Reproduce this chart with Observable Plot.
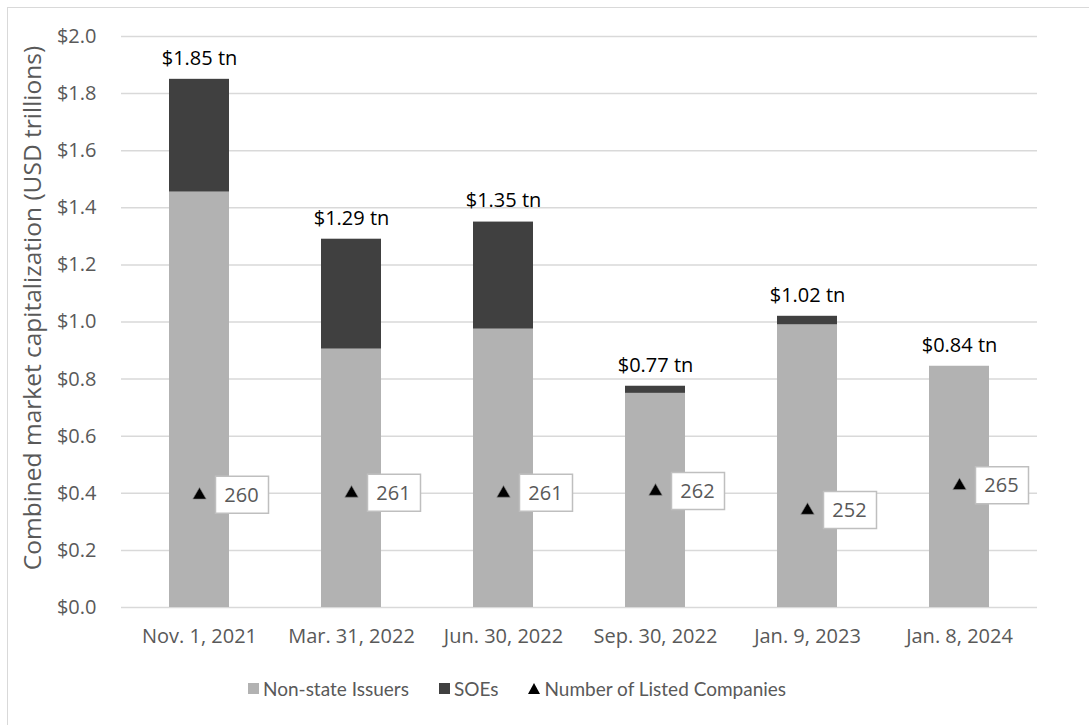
<!DOCTYPE html>
<html>
<head>
<meta charset="utf-8">
<script src="https://cdn.jsdelivr.net/npm/d3@7"></script>
<script src="https://cdn.jsdelivr.net/npm/@observablehq/plot@0.6"></script>
<style>
  html, body { margin: 0; padding: 0; background: #fff; }
  body { font-family: Lato, "Open Sans", sans-serif; }
  #wrap { position: relative; width: 1089px; height: 725px; overflow: hidden; background: #fff; }
  #frame { position: absolute; left: 7px; top: 7px; width: 1100px; height: 740px;
           border-left: 1.5px solid #d9d9d9; border-top: 1.5px solid #d9d9d9; box-sizing: border-box; }
  #chart { position: absolute; left: 0; top: 0; }
  #legend { position: absolute; left: 248px; top: 677px; display: flex; align-items: center;
            font-size: 19px; color: #595959; white-space: nowrap; }
  .item { display: flex; align-items: center; margin-right: 30px; }
  .sw { width: 11px; height: 11px; margin-right: 4px; display: inline-block; }
  .tri { width: 0; height: 0; border-left: 6px solid transparent; border-right: 6px solid transparent;
         border-bottom: 11px solid #000; margin-right: 4px; display: inline-block; }
</style>
</head>
<body>
<div id="wrap">
  <div id="frame"></div>
  <div id="chart"></div>
  <div id="legend"></div>
</div>
<script>
// ---- Data ----
const dates = ["Nov. 1, 2021", "Mar. 31, 2022", "Jun. 30, 2022", "Sep. 30, 2022", "Jan. 9, 2023", "Jan. 8, 2024"];
const nonStateIssuers = [1.455, 0.905, 0.975, 0.75, 0.99, 0.845];
const soes = [0.395, 0.385, 0.375, 0.025, 0.03, 0];
const totalLabels = ["$1.85 tn", "$1.29 tn", "$1.35 tn", "$0.77 tn", "$1.02 tn", "$0.84 tn"];
const listedCompanies = [260, 261, 261, 262, 252, 265];
const yTicks = [0, 0.2, 0.4, 0.6, 0.8, 1.0, 1.2, 1.4, 1.6, 1.8, 2.0];
const countAxisDomain = [201, 501]; // hidden secondary axis for the company counts
const seriesNames = ["Non-state Issuers", "SOEs", "Number of Listed Companies"];
const colors = ["#b2b2b2", "#404040"];
const yTitle = "Combined market capitalization (USD trillions)";

// ---- Build tables ----
const stacked = [];
dates.forEach((d, i) => {
  stacked.push({date: d, series: seriesNames[0], value: nonStateIssuers[i]});
  stacked.push({date: d, series: seriesNames[1], value: soes[i]});
});
const totals = dates.map((d, i) => ({date: d, total: nonStateIssuers[i] + soes[i], label: totalLabels[i]}));
// map the count onto the primary (0..2) scale through the hidden secondary axis
const countToY = d3.scaleLinear().domain(countAxisDomain).range([0, 2]);
const counts = dates.map((d, i) => ({date: d, n: listedCompanies[i], y: countToY(listedCompanies[i])}));

const boxSymbol = {
  draw(context) { context.rect(16, -19, 53, 37); }
};

const textGray = "#595959";
const chartFont = "'Open Sans', Lato, sans-serif";
const plot = Plot.plot({
  width: 1089,
  height: 665,
  marginLeft: 121,
  marginRight: 52,
  marginTop: 36,
  marginBottom: 58,
  style: { fontFamily: chartFont, background: "transparent", overflow: "visible" },
  x: { domain: dates, paddingInner: 0.607, paddingOuter: 0.3035 },
  y: { domain: [0, 2] },
  color: { domain: seriesNames.slice(0, 2), range: colors },
  marks: [
    Plot.gridY(yTicks, { stroke: "#d9d9d9", strokeOpacity: 1, strokeWidth: 1.5 }),
    Plot.axisY(yTicks, { tickSize: 0, tickPadding: 25, tickFormat: d => "$" + d.toFixed(1),
                         fontSize: 20, color: textGray, label: null }),
    Plot.axisX({ tickSize: 0, tickPadding: 21, fontSize: 20, color: textGray, label: null }),
    Plot.text([yTitle], { frameAnchor: "left", textAnchor: "middle", rotate: -90, dx: -88, dy: -14,
                          fontSize: 24.5, fill: textGray }),
    Plot.barY(stacked, Plot.stackY({ x: "date", y: "value", fill: "series", order: seriesNames.slice(0, 2) })),
    Plot.text(totals, { x: "date", y: "total", text: "label", dy: -21, fontSize: 20, fill: "#000" }),
    Plot.dot(counts, { x: "date", y: "y", symbol: "triangle", r: 5, fill: "#000", stroke: "#888", strokeWidth: 0.6 }),
    Plot.dot(counts, { x: "date", y: "y", symbol: boxSymbol, r: 5, fill: "#fff", stroke: "#bfbfbf", strokeWidth: 1.5 }),
    Plot.text(counts, { x: "date", y: "y", text: d => String(d.n), dx: 42, fontSize: 20, fill: textGray })
  ]
});
document.getElementById("chart").appendChild(plot);

// ---- Legend ----
const legend = document.getElementById("legend");
seriesNames.forEach((name, i) => {
  const item = document.createElement("div");
  item.className = "item";
  const sw = document.createElement("span");
  if (i < 2) { sw.className = "sw"; sw.style.background = colors[i]; }
  else { sw.className = "tri"; }
  item.appendChild(sw);
  const t = document.createElement("span");
  t.textContent = name;
  item.appendChild(t);
  legend.appendChild(item);
});
</script>
</body>
</html>
